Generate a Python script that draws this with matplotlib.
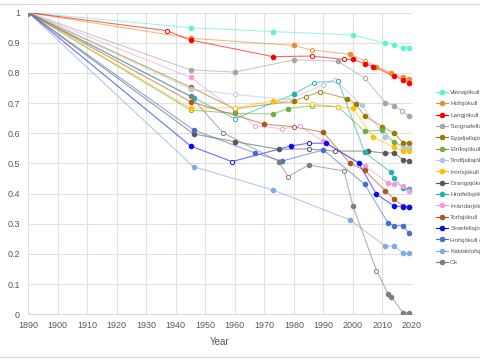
import matplotlib
matplotlib.use("Agg")
import matplotlib.pyplot as plt
from matplotlib.patches import Rectangle

# relative glacier area
vatna_yr = [1890, 1945, 1973, 2000, 2011, 2014, 2017, 2019]
vatna = [1.0, 0.950, 0.937, 0.926, 0.899, 0.893, 0.884, 0.881]

hofs_yr = [1890, 1945, 1980, 1986, 1999, 2004, 2008, 2013, 2017, 2019]
hofs = [1.0, 0.915, 0.891, 0.876, 0.862, 0.841, 0.821, 0.801, 0.785, 0.781]

lang_yr = [1890, 1937, 1945, 1973, 1986, 1997, 2000, 2004, 2007, 2014, 2017, 2019]
lang = [1.0, 0.940, 0.909, 0.854, 0.856, 0.845, 0.845, 0.831, 0.821, 0.790, 0.777, 0.767]

tungna_yr = [1890, 1945, 1960, 1980, 1995, 2004, 2011, 2014, 2016.5, 2019]
tungna = [1.0, 0.810, 0.803, 0.843, 0.839, 0.783, 0.702, 0.691, 0.675, 0.657]

eyja_yr = [1890, 1945, 1960, 1980, 1984, 1989, 1998, 2001, 2004, 2010, 2014, 2017, 2019]
eyja = [1.0, 0.753, 0.681, 0.707, 0.721, 0.738, 0.715, 0.697, 0.657, 0.622, 0.600, 0.569, 0.569]

eiriks_yr = [1890, 1945, 1960, 1973, 1978, 1986, 1995, 2004, 2010, 2014, 2019]
eiriks = [1.0, 0.677, 0.666, 0.664, 0.682, 0.691, 0.688, 0.606, 0.611, 0.570, 0.550]

tind_yr = [1890, 1945, 1960, 1978, 1990, 1994, 2003, 2011, 2017, 2019]
tind = [1.0, 0.746, 0.729, 0.711, 0.760, 0.777, 0.693, 0.587, 0.550, 0.550]

thoris_yr = [1890, 1945, 1960, 1973, 1986, 1995, 2000, 2007, 2014, 2017, 2019]
thoris = [1.0, 0.683, 0.685, 0.707, 0.697, 0.688, 0.683, 0.587, 0.554, 0.541, 0.541]

dranga_yr = [1890, 1946, 1960, 1975, 1985, 1994, 2005, 2011, 2014, 2017, 2019]
dranga = [1.0, 0.598, 0.572, 0.547, 0.548, 0.541, 0.541, 0.534, 0.536, 0.512, 0.509]

hrut_yr = [1890, 1946, 1960, 1980, 1987, 1995, 2004, 2013, 2014, 2017, 2019]
hrut = [1.0, 0.718, 0.648, 0.730, 0.768, 0.774, 0.537, 0.470, 0.451, 0.418, 0.414]

thrand_yr = [1890, 1945, 1967, 1976, 1982, 1990, 2004, 2012, 2014, 2017, 2019]
thrand = [1.0, 0.785, 0.625, 0.615, 0.623, 0.573, 0.493, 0.434, 0.433, 0.425, 0.410]

torfa_yr = [1890, 1945, 1970, 1980, 1990, 1999, 2004, 2011, 2014, 2017, 2019]
torfa = [1.0, 0.705, 0.630, 0.622, 0.603, 0.501, 0.477, 0.410, 0.382, 0.359, 0.357]

snae_yr = [1890, 1945, 1959, 1979, 1985, 1991, 2002, 2008, 2014, 2017, 2019]
snae = [1.0, 0.558, 0.506, 0.558, 0.567, 0.567, 0.501, 0.398, 0.359, 0.357, 0.355]

hofse_yr = [1890, 1946, 1967, 1976, 1990, 2004, 2012, 2014, 2017, 2019]
hofse = [1.0, 0.611, 0.534, 0.508, 0.545, 0.431, 0.302, 0.294, 0.294, 0.269]

kald_yr = [1890, 1946, 1973, 1999, 2011, 2014, 2017, 2019]
kald = [1.0, 0.489, 0.412, 0.313, 0.226, 0.226, 0.202, 0.202]

ok_yr = [1890, 1945, 1956, 1975, 1978, 1985, 1997, 2000, 2008, 2012, 2013, 2017, 2019]
ok = [1.0, 0.722, 0.602, 0.506, 0.456, 0.495, 0.475, 0.360, 0.145, 0.067, 0.058, 0.005, 0.005]

names = ["Vatnajökull", "Hofsjökull", "Langjökull", "Tungnafellsjökull",
         "Eyjafjallajökull", "Eiríksjökull", "Tindfjallajökull", "Þórisjökull",
         "Drangajökull", "Hrútfellsjökull", "Þrándarjökull", "Torfajökull",
         "Snæfellsjökull", "Hofsjökull eystri", "Kaldaklofsjökull", "Ok"]
series = [(vatna_yr, vatna), (hofs_yr, hofs), (lang_yr, lang), (tungna_yr, tungna),
          (eyja_yr, eyja), (eiriks_yr, eiriks), (tind_yr, tind), (thoris_yr, thoris),
          (dranga_yr, dranga), (hrut_yr, hrut), (thrand_yr, thrand), (torfa_yr, torfa),
          (snae_yr, snae), (hofse_yr, hofse), (kald_yr, kald), (ok_yr, ok)]

# years shown with hollow markers
open_years = {
    "Hofsjökull": [1986, 2004],
    "Langjökull": [1937, 1986, 1997],
    "Tungnafellsjökull": [2004, 2016.5],
    "Eyjafjallajökull": [1960, 1984, 1989],
    "Eiríksjökull": [1945, 1986, 1995],
    "Tindfjallajökull": [1960, 1978, 1990, 1994],
    "Þórisjökull": [1960, 1986, 1995],
    "Drangajökull": [1985, 1994],
    "Hrútfellsjökull": [1960, 1987, 1995],
    "Þrándarjökull": [1967, 1976, 1982],
    "Torfajökull": [1980],
    "Snæfellsjökull": [1959, 1985],
    "Ok": [1956, 1978, 1997, 2008],
}

colors = ["#5CF5CE", "#F08C2E", "#FF0000", "#A6A6A6",
          "#9C7A00", "#70AD47", "#B4C7E7", "#FFC000",
          "#595959", "#26AFAF", "#F49AE0", "#B0561A",
          "#0A0AFF", "#4472C4", "#7FACE0", "#7F7F7F"]

plt.rcParams['font.family'] = ['Liberation Sans', 'DejaVu Sans']

fig = plt.figure(figsize=(4.8, 3.6), dpi=100)
ax = fig.add_axes([0.059, 0.127, 0.799, 0.838])

for name, (yrs, vals), c in zip(names, series, colors):
    ax.plot(yrs, vals, color=c, lw=0.8, alpha=0.6, zorder=2)
    hollow = open_years.get(name, [])
    fx = [x for x in yrs if x not in hollow]
    fy = [v for x, v in zip(yrs, vals) if x not in hollow]
    hx = [x for x in yrs if x in hollow]
    hy = [v for x, v in zip(yrs, vals) if x in hollow]
    ax.plot(fx, fy, ls='none', marker='o', ms=3, color=c, mec=c, zorder=3)
    ax.plot(hx, hy, ls='none', marker='o', ms=3, mfc='white', mec=c, mew=0.7, zorder=3)
    ax.plot([], [], color=c, lw=0.8, marker='o', ms=3, label=name)

ax.set_xlim(1890, 2020)
ax.set_ylim(0, 1)
ax.set_xticks(range(1890, 2021, 10))
ax.set_yticks([i / 10 for i in range(11)])
ax.set_yticklabels(["0", "0.1", "0.2", "0.3", "0.4", "0.5", "0.6", "0.7", "0.8", "0.9", "1"])
ax.tick_params(length=0, labelsize=6.5, labelcolor="#595959")
ax.tick_params(axis='y', pad=6)
ax.tick_params(axis='x', pad=5)
ax.grid(True, color="#E0E0E0", lw=0.8)
ax.set_axisbelow(True)
for s in ["top", "right", "left"]:
    ax.spines[s].set_visible(False)
ax.spines["bottom"].set_color("#D9D9D9")

ax.set_xlabel("Year", fontsize=7, color="#595959", labelpad=5)
ax.set_ylabel("Relative glacier area", fontsize=7, color="#595959", labelpad=7)

fig.legend(loc='upper left', bbox_to_anchor=(0.902, 0.758), frameon=False,
           fontsize=4.6, labelcolor="#595959", handlelength=2.0,
           handletextpad=0.3, labelspacing=0.92, borderaxespad=0)

fig.patches.append(Rectangle((-0.01, 0.007), 1.02, 0.983, transform=fig.transFigure,
                             fill=False, ec="#D9D9D9", lw=0.8))

fig.savefig("out.png", dpi=100)
